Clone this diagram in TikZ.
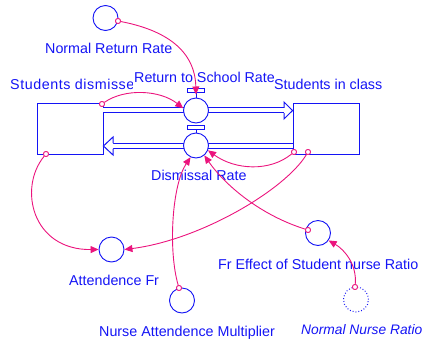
\documentclass[tikz,border=0pt]{standalone}
\usepackage{fontspec}
\setmainfont{Liberation Sans}
\newfontfamily\spacedfont[LetterSpace=3.8]{Liberation Sans}
\usetikzlibrary{arrows.meta}
\definecolor{pk}{RGB}{235,20,125}
\definecolor{bl}{RGB}{20,20,245}
\begin{document}
\begin{tikzpicture}[x=1pt,y=-1pt,
  stock/.style={draw=bl, line width=0.9pt, fill=white, minimum width=66pt, minimum height=51pt, inner sep=0pt},
  aux/.style={circle, draw=bl, line width=0.9pt, fill=white, minimum size=25pt, inner sep=0pt},
  valvebar/.style={draw=bl, line width=0.8pt, fill=white, minimum width=17pt, minimum height=3.5pt, inner sep=0pt},
  lbl/.style={text=bl, font=\fontsize{14.3}{17}\selectfont, inner sep=0pt, anchor=base west},
  link/.style={draw=pk, line width=0.9pt, -{Triangle[length=8pt,width=7pt]}},
  tail/.style={circle, draw=pk, line width=0.8pt, minimum size=5pt, inner sep=0pt, fill=white},
  pipe/.style={draw=bl, line width=1pt, double=white, double distance=3.6pt},
  head/.style={draw=bl, line width=1pt, fill=white}
]
\useasboundingbox (0,0) rectangle (424,341);

% labels
\node[lbl] (lnrr) at (45,53) {Normal Return Rate};
\begin{scope}
\clip (0,60) rectangle (132,96);
\node[lbl, font=\spacedfont\fontsize{14.3}{17}\selectfont] (lsd) at (10,89) {Students dismissed};
\end{scope}
\node[lbl] (lrts) at (134,82) {Return to School Rate};
\node[lbl] (lsic) at (274,89) {Students in class};
\node[lbl] (ldr) at (151,180) {Dismissal Rate};
\node[lbl] (laf) at (69,285) {Attendence Fr};
\node[lbl] (lnam) at (99,336) {Nurse Attendence Multiplier};
\node[lbl] (lfe) at (218,269) {Fr Effect of Student nurse Ratio};
\node[lbl, anchor=base east, font=\fontsize{13.8}{17}\selectfont\itshape] (lnnr) at (422.5,334) {Normal Nurse Ratio};

% stocks
\node[stock] (sd) at (70,128.5) {};
\node[stock] (sic) at (326,128.5) {};

% pipes
\draw[pipe] ([yshift=-7.5pt]sd.north east) -- ([xshift=-9pt,yshift=-7.5pt]sic.north west);
\draw[head] (284,107.8) -- (284,102) -- (sic.west |- 0,110.5) -- (284,119) -- (284,113.2);
\draw[pipe] ([yshift=8.5pt]sic.south west) -- ([xshift=10pt,yshift=8.5pt]sd.south east);
\draw[head] (113,143.2) -- (113,137) -- (sd.east |- 0,146) -- (113,155) -- (113,148.8);

% valves
\node[aux] (rts) at (196,110.5) {};
\node[valvebar] (rtsbar) at (196,90.5) {};
\draw[bl, line width=0.8pt] (rtsbar.south) -- (rts.north);
\node[aux] (dr) at (196,145.5) {};
\node[valvebar] (drbar) at (196,127.5) {};
\draw[bl, line width=0.8pt] (drbar.south) -- (dr.north);

% auxiliaries
\node[aux] (nrr) at (105.5,18) {};
\node[aux] (af) at (111.5,249.5) {};
\node[aux] (nam) at (182,300.5) {};
\node[aux] (fe) at (318,233) {};
\node[aux, dotted, line width=1pt] (nnr) at (356,299.5) {};

% connector tails
\node[tail] (t1) at (118,21) {};
\node[tail] (t2) at (102,104) {};
\node[tail] (t3) at (46,154) {};
\node[tail] (t4) at (294,152) {};
\node[tail] (t5) at (308,152) {};
\node[tail] (t6) at (308,230) {};
\node[tail] (t7) at (179,288) {};
\node[tail] (t8) at (355,287) {};

% connectors
\draw[link] (t1) .. controls (165,30) and (195,50) .. ([yshift=-4pt]rtsbar.center);
\draw[link] (t2) .. controls (125,88) and (160,90) .. (rts.170);
\draw[link] (t3) .. controls (18,188) and (32,250) .. (af.west);
\draw[link] (t4) .. controls (270,172) and (235,170) .. (dr.-22);
\draw[link] (t5) .. controls (285,190) and (200,240) .. (af.east);
\draw[link] (t6) .. controls (260,215) and (225,185) .. (dr.-50);
\draw[link] (t7) .. controls (168,250) and (172,185) .. (dr.-115);
\draw[link] (t8) .. controls (357,265) and (345,250) .. (fe.-35);

% redraw tails on top
\foreach \t in {t1,t2,t3,t4,t5,t6,t7,t8} \draw[pk, line width=0.8pt, fill=white] (\t) circle (2.5pt);
\end{tikzpicture}
\end{document}
